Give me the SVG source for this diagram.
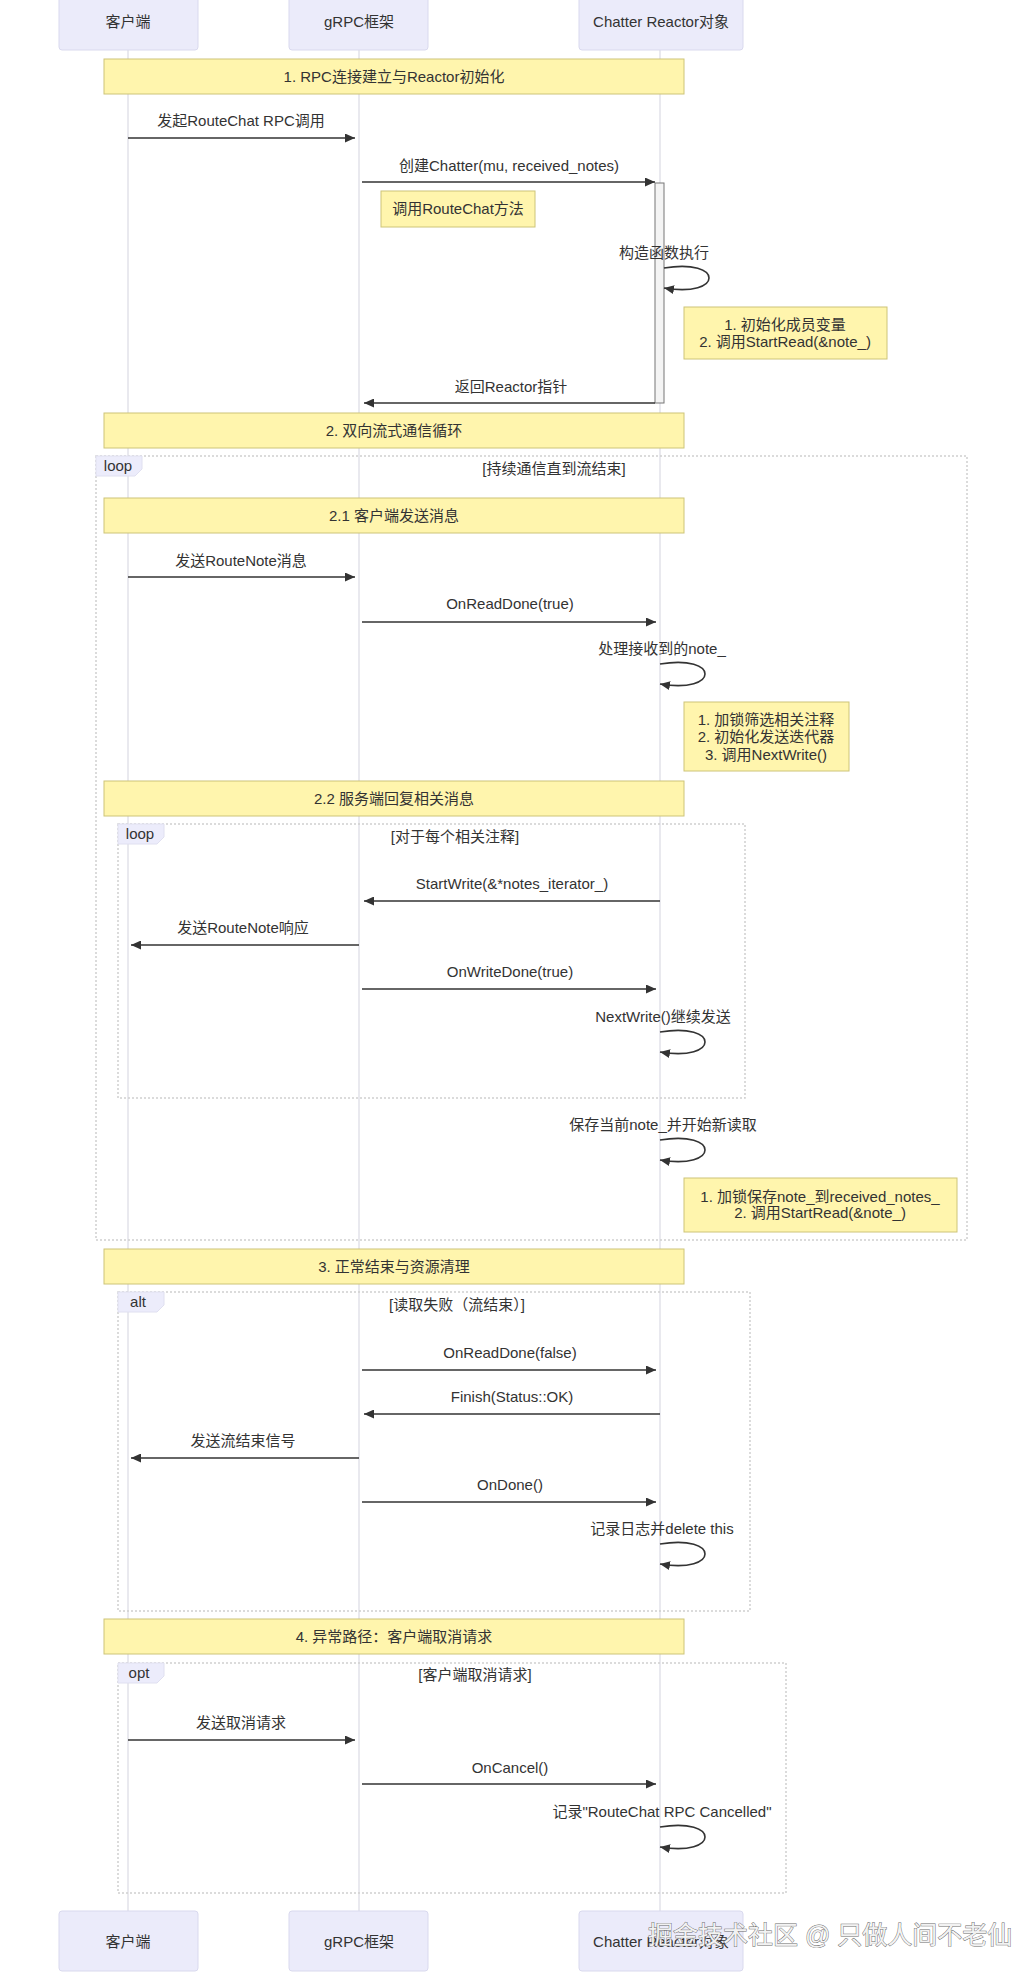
<svg xmlns="http://www.w3.org/2000/svg" width="1036" height="1980" viewBox="0 0 1036 1980">
<defs>
<style>
text{font-family:"Liberation Sans","Noto Sans CJK SC",sans-serif;font-size:15px;fill:#333;}
.c{text-anchor:middle;}
.actor{fill:#ebebfa;stroke:#d9d9ee;stroke-width:1;}
.life{stroke:#d3d3de;stroke-width:1;}
.note{fill:#fff5ad;stroke:#cdc479;stroke-width:1;}
.msg{stroke:#333;stroke-width:1.6;fill:none;marker-end:url(#arr);}
.frame{fill:none;stroke:#cfcfcf;stroke-width:1.5;stroke-dasharray:2 2;}
.lbl{fill:#ececfb;stroke:#e0e0f0;stroke-width:1;}
.act{fill:#f4f4f4;stroke:#777;stroke-width:1;}
.wm{font-size:25px;fill:#f2f2f2;stroke:#6a6a6a;stroke-width:0.9;paint-order:stroke;}
</style>
<marker id="arr" viewBox="0 0 10 9" markerWidth="10" markerHeight="9" refX="10" refY="4.5" orient="auto" markerUnits="userSpaceOnUse">
<path d="M0,0 L10,4.5 L0,9 z" fill="#333"/>
</marker>
</defs>
<rect width="1036" height="1980" fill="#fff"/>

<g id="lifelines">
<line class="life" x1="128" y1="50" x2="128" y2="1911"/>
<line class="life" x1="359" y1="50" x2="359" y2="1911"/>
<line class="life" x1="660" y1="50" x2="660" y2="1911"/>
</g>

<g id="frames">
<g id="loop1">
<rect class="frame" x="96" y="456" width="871" height="784"/>
<polygon class="lbl" points="96,456 142,456 142,469 135,476 96,476"/>
<text class="c" x="118" y="471">loop</text>
<text class="c" x="554" y="474">[持续通信直到流结束]</text>
</g>
<g id="loop2">
<rect class="frame" x="118" y="824" width="627" height="274"/>
<polygon class="lbl" points="118,824 164,824 164,837 157,844 118,844"/>
<text class="c" x="140" y="839">loop</text>
<text class="c" x="455" y="842">[对于每个相关注释]</text>
</g>
<g id="alt1">
<rect class="frame" x="118" y="1292" width="632" height="319"/>
<polygon class="lbl" points="118,1292 164,1292 164,1305 157,1312 118,1312"/>
<text class="c" x="138" y="1307">alt</text>
<text class="c" x="457" y="1310">[读取失败（流结束）]</text>
</g>
<g id="opt1">
<rect class="frame" x="118" y="1663" width="668" height="230"/>
<polygon class="lbl" points="118,1663 164,1663 164,1676 157,1683 118,1683"/>
<text class="c" x="139" y="1678">opt</text>
<text class="c" x="475" y="1680">[客户端取消请求]</text>
</g>
</g>

<g id="actors-top">
<g id="a-client-top"><rect class="actor" x="59" y="-15" width="139" height="65" rx="3"/><text class="c" x="128" y="27">客户端</text></g>
<g id="a-grpc-top"><rect class="actor" x="289" y="-15" width="139" height="65" rx="3"/><text class="c" x="359" y="27">gRPC框架</text></g>
<g id="a-reactor-top"><rect class="actor" x="579" y="-15" width="164" height="65" rx="3"/><text class="c" x="661" y="27">Chatter Reactor对象</text></g>
</g>

<g id="activation"><rect class="act" x="655" y="183" width="9" height="220"/></g>

<g id="notes">
<g id="n1"><rect class="note" x="104" y="59" width="580" height="35"/><text class="c" x="394" y="82">1. RPC连接建立与Reactor初始化</text></g>
<g id="n2"><rect class="note" x="381" y="191" width="154" height="36"/><text class="c" x="458" y="214">调用RouteChat方法</text></g>
<g id="n3"><rect class="note" x="684" y="307" width="203" height="52"/><text class="c" x="785" y="330">1. 初始化成员变量</text><text class="c" x="785" y="347">2. 调用StartRead(&amp;note_)</text></g>
<g id="n4"><rect class="note" x="104" y="413" width="580" height="35"/><text class="c" x="394" y="436">2. 双向流式通信循环</text></g>
<g id="n5"><rect class="note" x="104" y="498" width="580" height="35"/><text class="c" x="394" y="521">2.1 客户端发送消息</text></g>
<g id="n6"><rect class="note" x="684" y="702" width="165" height="69"/><text class="c" x="766" y="725">1. 加锁筛选相关注释</text><text class="c" x="766" y="742">2. 初始化发送迭代器</text><text class="c" x="766" y="760">3. 调用NextWrite()</text></g>
<g id="n7"><rect class="note" x="104" y="781" width="580" height="35"/><text class="c" x="394" y="804">2.2 服务端回复相关消息</text></g>
<g id="n8"><rect class="note" x="684" y="1178" width="273" height="54"/><text class="c" x="820" y="1202">1. 加锁保存note_到received_notes_</text><text class="c" x="820" y="1218">2. 调用StartRead(&amp;note_)</text></g>
<g id="n9"><rect class="note" x="104" y="1249" width="580" height="35"/><text class="c" x="394" y="1272">3. 正常结束与资源清理</text></g>
<g id="n10"><rect class="note" x="104" y="1619" width="580" height="35"/><text class="c" x="394" y="1642">4. 异常路径：客户端取消请求</text></g>
</g>

<g id="connectors">
<line class="msg" x1="128" y1="138" x2="355" y2="138"/>
<line class="msg" x1="362" y1="182" x2="655" y2="182"/>
<path class="msg" d="M664,268 C724,258 724,298 664,288"/>
<line class="msg" x1="655" y1="403" x2="364" y2="403"/>
<line class="msg" x1="128" y1="577" x2="355" y2="577"/>
<line class="msg" x1="362" y1="622" x2="656" y2="622"/>
<path class="msg" d="M660,664 C720,654 720,694 660,684"/>
<line class="msg" x1="660" y1="901" x2="364" y2="901"/>
<line class="msg" x1="359" y1="945" x2="131" y2="945"/>
<line class="msg" x1="362" y1="989" x2="656" y2="989"/>
<path class="msg" d="M660,1032 C720,1022 720,1062 660,1052"/>
<path class="msg" d="M660,1140 C720,1130 720,1170 660,1160"/>
<line class="msg" x1="362" y1="1370" x2="656" y2="1370"/>
<line class="msg" x1="660" y1="1414" x2="364" y2="1414"/>
<line class="msg" x1="359" y1="1458" x2="131" y2="1458"/>
<line class="msg" x1="362" y1="1502" x2="656" y2="1502"/>
<path class="msg" d="M660,1544 C720,1534 720,1574 660,1564"/>
<line class="msg" x1="128" y1="1740" x2="355" y2="1740"/>
<line class="msg" x1="362" y1="1784" x2="656" y2="1784"/>
<path class="msg" d="M660,1827 C720,1817 720,1857 660,1847"/>
</g>

<g id="message-labels">
<text class="c" x="241" y="126">发起RouteChat RPC调用</text>
<text class="c" x="509" y="171">创建Chatter(mu, received_notes)</text>
<text class="c" x="664" y="258">构造函数执行</text>
<text class="c" x="511" y="392">返回Reactor指针</text>
<text class="c" x="241" y="566">发送RouteNote消息</text>
<text class="c" x="510" y="609">OnReadDone(true)</text>
<text class="c" x="662" y="654">处理接收到的note_</text>
<text class="c" x="512" y="889">StartWrite(&amp;*notes_iterator_)</text>
<text class="c" x="243" y="933">发送RouteNote响应</text>
<text class="c" x="510" y="977">OnWriteDone(true)</text>
<text class="c" x="663" y="1022">NextWrite()继续发送</text>
<text class="c" x="663" y="1130">保存当前note_并开始新读取</text>
<text class="c" x="510" y="1358">OnReadDone(false)</text>
<text class="c" x="512" y="1402">Finish(Status::OK)</text>
<text class="c" x="243" y="1446">发送流结束信号</text>
<text class="c" x="510" y="1490">OnDone()</text>
<text class="c" x="662" y="1534">记录日志并delete this</text>
<text class="c" x="241" y="1728">发送取消请求</text>
<text class="c" x="510" y="1773">OnCancel()</text>
<text class="c" x="662" y="1817">记录"RouteChat RPC Cancelled"</text>
</g>

<g id="actors-bottom">
<g id="a-client-bottom"><rect class="actor" x="59" y="1911" width="139" height="60" rx="3"/><text class="c" x="128" y="1947">客户端</text></g>
<g id="a-grpc-bottom"><rect class="actor" x="289" y="1911" width="139" height="60" rx="3"/><text class="c" x="359" y="1947">gRPC框架</text></g>
<g id="a-reactor-bottom"><rect class="actor" x="579" y="1911" width="164" height="60" rx="3"/><text class="c" x="661" y="1947">Chatter Reactor对象</text></g>
</g>

<text class="wm" x="648" y="1944">掘金技术社区 @ 只做人间不老仙</text>
</svg>
